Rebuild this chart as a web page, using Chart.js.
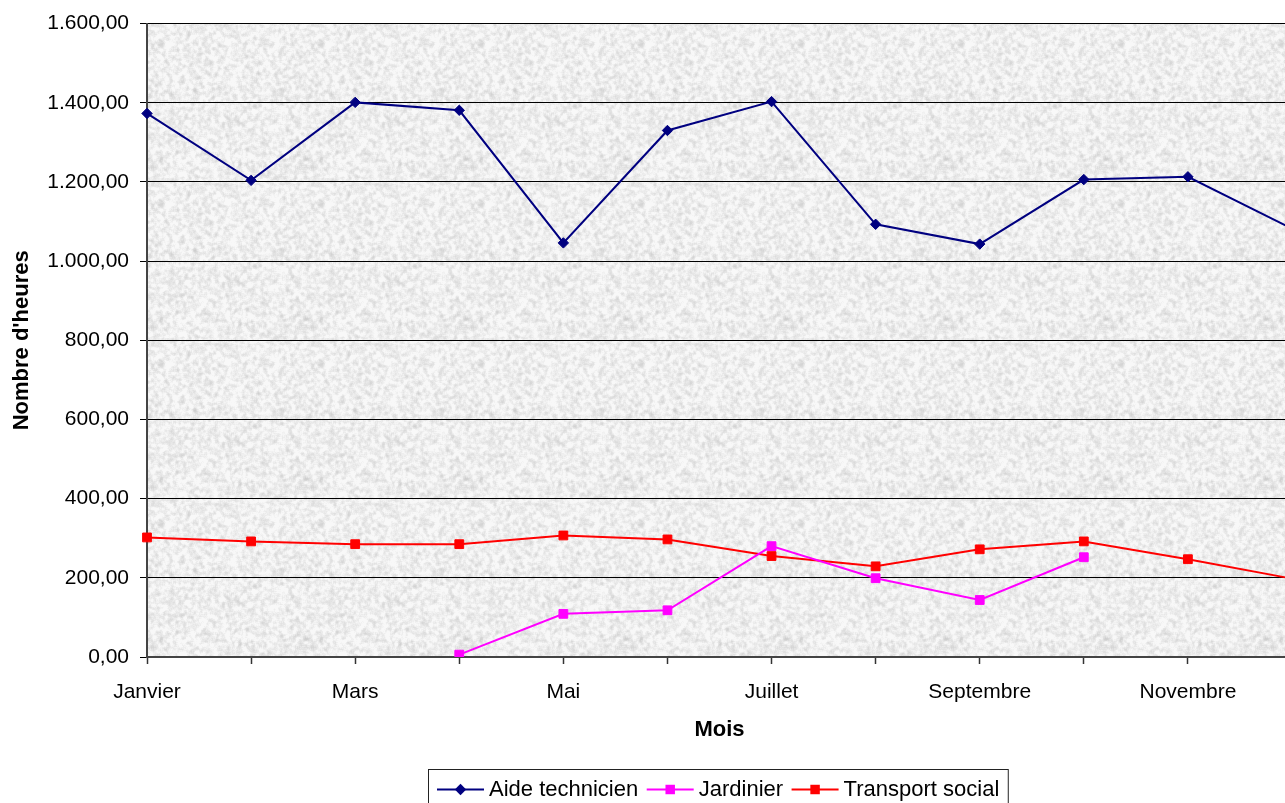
<!DOCTYPE html>
<html lang="fr">
<head>
<meta charset="utf-8">
<title>Nombre d'heures par mois</title>
<script src="https://cdn.jsdelivr.net/npm/chart.js@4.4.1/dist/chart.umd.min.js"></script>
<style>
  html, body { margin: 0; padding: 0; background: #fff; overflow: hidden; }
  #wrap { width: 1300px; height: 803px; position: relative; }
  canvas { display: block; }
</style>
</head>
<body>
<div id="wrap"><canvas id="chart" width="1300" height="803"></canvas></div>
<script>
// Mois de l'année
const months = ['Janvier', 'Février', 'Mars', 'Avril', 'Mai', 'Juin',
                'Juillet', 'Août', 'Septembre', 'Octobre', 'Novembre', 'Décembre'];

// Heures par poste
const aideTechnicien = [1373, 1204, 1401, 1381, 1046, 1330, 1403, 1093, 1043, 1206, 1213, 1082];
const jardinier      = [null, null, null, 6, 109, 118, 280, 199, 144, 252, null, null];
const transportSocial = [302, 292, 285, 285, 307, 297, 255, 229, 272, 292, 247, 198];

// Axe des heures
const yMin = 0;
const yMax = 1600;
const yStep = 200;

const FONT = '"Liberation Sans", Arial, sans-serif';

function formatFr(v) {
  const parts = Number(v).toFixed(2).split('.');
  return parts[0].replace(/\B(?=(\d{3})+(?!\d))/g, '.') + ',' + parts[1];
}

// Granite-like fill for the plot area (deterministic hash noise)
function makeGranite() {
  const size = 160;
  const c = document.createElement('canvas');
  c.width = size; c.height = size;
  const g = c.getContext('2d');
  let raw = new Float32Array(size * size);
  for (let y = 0; y < size; y++) {
    for (let x = 0; x < size; x++) {
      let h = (x * 374761393 + y * 668265263) | 0;
      h = Math.imul(h ^ (h >>> 13), 1274126177);
      h = (h ^ (h >>> 16)) >>> 0;
      raw[y * size + x] = (h % 1000) / 1000;
    }
  }
  const fine = raw.slice();
  // two box-blur passes give small clumps
  for (let pass = 0; pass < 2; pass++) {
    const out = new Float32Array(size * size);
    for (let y = 0; y < size; y++) {
      for (let x = 0; x < size; x++) {
        let s = 0;
        for (let dy = -1; dy <= 1; dy++) {
          for (let dx = -1; dx <= 1; dx++) {
            s += raw[((y + dy + size) % size) * size + ((x + dx + size) % size)];
          }
        }
        out[y * size + x] = s / 9;
      }
    }
    raw = out;
  }
  const img = g.createImageData(size, size);
  for (let i = 0; i < size * size; i++) {
    const v = Math.round(238 + (raw[i] - 0.5) * 110 + (fine[i] - 0.5) * 8);
    const cv = Math.max(200, Math.min(248, v));
    img.data[i * 4] = cv; img.data[i * 4 + 1] = cv; img.data[i * 4 + 2] = cv; img.data[i * 4 + 3] = 255;
  }
  g.putImageData(img, 0, 0);
  return c;
}

const granite = makeGranite();

const plotBackground = {
  id: 'plotBackground',
  beforeDraw(chart) {
    const { ctx, chartArea: a } = chart;
    ctx.save();
    ctx.fillStyle = ctx.createPattern(granite, 'repeat');
    ctx.fillRect(a.left, a.top, a.right - a.left, a.bottom - a.top);
    ctx.restore();
  }
};

function drawMarker(ctx, style, x, y, r, color) {
  ctx.save();
  ctx.fillStyle = color;
  ctx.beginPath();
  if (style === 'rectRot') {
    ctx.moveTo(x - r, y); ctx.lineTo(x, y - r); ctx.lineTo(x + r, y); ctx.lineTo(x, y + r);
  } else {
    const h = r * Math.SQRT1_2;
    ctx.rect(x - h, y - h, 2 * h, 2 * h);
  }
  ctx.closePath();
  ctx.fill();
  ctx.restore();
}

// Boxed legend with a line sample and marker per series
const boxedLegend = {
  id: 'boxedLegend',
  afterDraw(chart) {
    const { ctx, chartArea: a } = chart;
    const sets = chart.data.datasets;
    ctx.save();
    ctx.font = '22px ' + FONT;
    const padL = 8.5, padR = 9, lineW = 47, gapText = 5, gapItem = 8.5;
    const widths = sets.map(d => ctx.measureText(d.label).width);
    let total = padL + padR;
    widths.forEach((w, i) => { total += lineW + gapText + w + (i < sets.length - 1 ? gapItem : 0); });
    const cx = (a.left + a.right) / 2;
    const left = Math.round(cx - total / 2) - 1.5;
    const top = 769.5;
    const cy = 789.5;
    ctx.strokeStyle = '#222';
    ctx.lineWidth = 1;
    ctx.strokeRect(left, top, total, 50);
    let x = left + padL;
    sets.forEach((d, i) => {
      ctx.strokeStyle = d.borderColor;
      ctx.lineWidth = 2;
      ctx.beginPath();
      ctx.moveTo(x, cy); ctx.lineTo(x + lineW, cy);
      ctx.stroke();
      drawMarker(ctx, d.pointStyle, x + lineW / 2, cy, d.pointRadius + 0.5, d.borderColor);
      x += lineW + gapText;
      ctx.fillStyle = '#000';
      ctx.textBaseline = 'middle';
      ctx.textAlign = 'left';
      ctx.fillText(d.label, x, cy);
      x += widths[i] + gapItem;
    });
    ctx.restore();
  }
};

new Chart(document.getElementById('chart'), {
  type: 'line',
  data: {
    labels: months,
    datasets: [
      {
        label: 'Aide technicien',
        data: aideTechnicien,
        borderColor: '#000080',
        backgroundColor: '#000080',
        borderWidth: 2,
        pointStyle: 'rectRot',
        pointRadius: 5.2,
        pointBorderWidth: 1,
        tension: 0
      },
      {
        label: 'Jardinier',
        data: jardinier,
        borderColor: '#FF00FF',
        backgroundColor: '#FF00FF',
        borderWidth: 2,
        pointStyle: 'rect',
        pointRadius: 6.2,
        pointBorderWidth: 1,
        spanGaps: false,
        tension: 0
      },
      {
        label: 'Transport social',
        data: transportSocial,
        borderColor: '#FF0000',
        backgroundColor: '#FF0000',
        borderWidth: 2,
        pointStyle: 'rect',
        pointRadius: 6.2,
        pointBorderWidth: 1,
        tension: 0
      }
    ]
  },
  options: {
    responsive: false,
    animation: false,
    layout: { padding: { top: 22, left: 0, right: 8, bottom: 46 } },
    plugins: {
      legend: { display: false },
      tooltip: { enabled: false }
    },
    scales: {
      x: {
        type: 'category',
        offset: false,
        afterFit(scale) {
          scale.height = 100;
          scale.paddingLeft = 0;
          scale.paddingRight = 0;
        },
        grid: {
          offset: false,
          drawOnChartArea: false,
          drawTicks: true,
          tickLength: 7,
          tickColor: '#333',
          tickWidth: 1.5
        },
        border: { display: true, color: '#444', width: 2 },
        ticks: {
          autoSkip: false,
          maxRotation: 0,
          padding: 16,
          color: '#000',
          font: { family: FONT, size: 21 },
          callback(value, index) { return index % 2 === 0 ? months[index] : ''; }
        },
        title: {
          display: true,
          text: 'Mois',
          color: '#000',
          font: { family: FONT, size: 22, weight: 'bold' },
          padding: { top: 0, bottom: 14 }
        }
      },
      y: {
        min: yMin,
        max: yMax,
        afterFit(scale) { scale.width = 147; },
        grid: {
          color: '#000',
          lineWidth: 1,
          drawTicks: true,
          tickLength: 7,
          tickColor: '#000'
        },
        border: { display: true, color: '#444', width: 2 },
        ticks: {
          stepSize: yStep,
          padding: 11,
          color: '#000',
          font: { family: FONT, size: 21 },
          callback(value) { return formatFr(value); }
        },
        title: {
          display: true,
          text: "Nombre d'heures",
          color: '#000',
          font: { family: FONT, size: 22, weight: 'bold' },
          padding: { top: 9, bottom: 0 }
        }
      }
    }
  },
  plugins: [plotBackground, boxedLegend]
});
</script>
</body>
</html>
